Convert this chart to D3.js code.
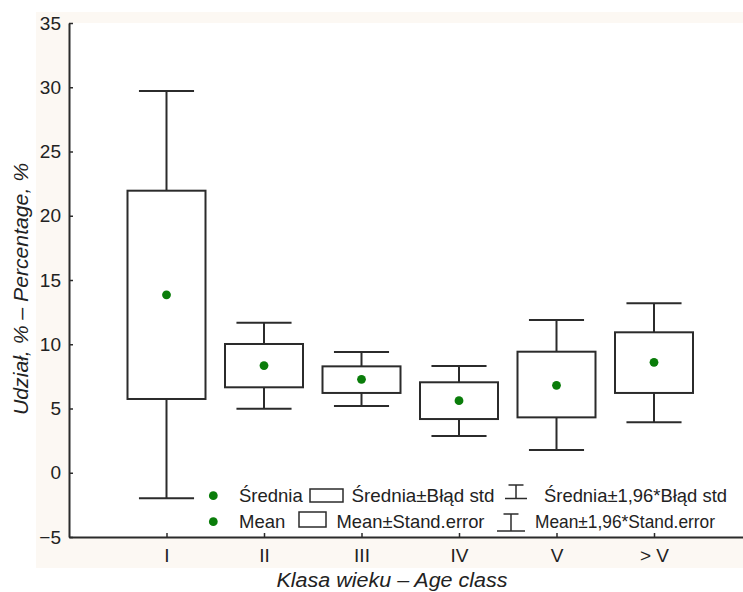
<!DOCTYPE html>
<html>
<head>
<meta charset="utf-8">
<script src="https://cdn.jsdelivr.net/npm/d3@7"></script>
<style>
  html, body { margin: 0; padding: 0; background: #ffffff; }
  svg { display: block; }
  text { font-family: "Liberation Sans", Arial, sans-serif; fill: #222; }
</style>
</head>
<body>
<svg id="chart" width="743" height="592"></svg>
<script>
// ---- data ----
const categories = ["I", "II", "III", "IV", "V", "> V"];
const means      = [13.85, 8.34, 7.27, 5.61, 6.80, 8.59];
const seLow      = [5.74, 6.65, 6.21, 4.18, 4.31, 6.21];
const seHigh     = [21.95, 10.02, 8.28, 7.04, 9.42, 10.93];
const ciLow      = [-1.99, 4.98, 5.19, 2.86, 1.77, 3.93];
const ciHigh     = [29.70, 11.68, 9.40, 8.31, 11.89, 13.19];
const yTicks     = [-5, 0, 5, 10, 15, 20, 25, 30, 35];
const legendRow1 = ["Średnia", "Średnia±Błąd std", "Średnia±1,96*Błąd std"];
const legendRow2 = ["Mean", "Mean±Stand.error", "Mean±1,96*Stand.error"];
const xTitle = "Klasa wieku – Age class";
const yTitle = "Udział, % – Percentage, %";

const data = categories.map((c, i) => ({
  cat: c, mean: means[i], lo: seLow[i], hi: seHigh[i], cLo: ciLow[i], cHi: ciHigh[i]
}));

const svg = d3.select("#chart");
const stroke = "#2b2b2b";
const green = "#0a7d0a";

// outer faint background
svg.append("rect").attr("x", 36).attr("y", 12).attr("width", 707).attr("height", 556)
  .attr("fill", "#fcf8f3");

const x = d3.scalePoint().domain(categories).range([69, 751.5]).padding(1);
const y = d3.scaleLinear().domain([-5, 35]).range([537, 23]);

// plot area
svg.append("rect").attr("x", 69).attr("y", y(35)).attr("width", 743 - 69).attr("height", y(-5) - y(35))
  .attr("fill", "#ffffff");

const step = x.step();
const boxW = step * 0.8;
const capW = step * 0.565;

const g = svg.append("g");

// whiskers
g.selectAll(".wUp").data(data).join("line")
  .attr("x1", d => x(d.cat)).attr("x2", d => x(d.cat))
  .attr("y1", d => y(d.hi)).attr("y2", d => y(d.cHi))
  .attr("stroke", stroke).attr("stroke-width", 2);
g.selectAll(".wDn").data(data).join("line")
  .attr("x1", d => x(d.cat)).attr("x2", d => x(d.cat))
  .attr("y1", d => y(d.lo)).attr("y2", d => y(d.cLo))
  .attr("stroke", stroke).attr("stroke-width", 2);
g.selectAll(".capUp").data(data).join("line")
  .attr("x1", d => x(d.cat) - capW / 2).attr("x2", d => x(d.cat) + capW / 2)
  .attr("y1", d => y(d.cHi)).attr("y2", d => y(d.cHi))
  .attr("stroke", stroke).attr("stroke-width", 2);
g.selectAll(".capDn").data(data).join("line")
  .attr("x1", d => x(d.cat) - capW / 2).attr("x2", d => x(d.cat) + capW / 2)
  .attr("y1", d => y(d.cLo)).attr("y2", d => y(d.cLo))
  .attr("stroke", stroke).attr("stroke-width", 2);
// boxes
g.selectAll(".box").data(data).join("rect")
  .attr("x", d => x(d.cat) - boxW / 2).attr("width", boxW)
  .attr("y", d => y(d.hi)).attr("height", d => y(d.lo) - y(d.hi))
  .attr("fill", "#ffffff").attr("stroke", stroke).attr("stroke-width", 2);
// means
g.selectAll(".mean").data(data).join("circle")
  .attr("cx", d => x(d.cat)).attr("cy", d => y(d.mean)).attr("r", 4.4)
  .attr("fill", green);

// axes
const yAxis = d3.axisLeft(y).tickValues(yTicks).tickSizeInner(-4).tickSizeOuter(0).tickPadding(8);
const yg = svg.append("g").attr("transform", "translate(69,0)").call(yAxis);
yg.select(".domain").attr("stroke", stroke).attr("stroke-width", 2);
yg.selectAll(".tick line").attr("stroke", stroke).attr("stroke-width", 1.5);
yg.selectAll(".tick text").attr("font-size", 19).attr("fill", "#222")
  .attr("font-family", "Liberation Sans, Arial, sans-serif");

const xAxis = d3.axisBottom(x).tickSizeInner(-4).tickSizeOuter(0).tickPadding(12);
const xg = svg.append("g").attr("transform", "translate(0,537)").call(xAxis);
xg.select(".domain").attr("stroke", stroke).attr("stroke-width", 2);
xg.selectAll(".tick line").attr("stroke", stroke).attr("stroke-width", 1.5);
xg.selectAll(".tick text").attr("font-size", 19).attr("fill", "#222")
  .attr("font-family", "Liberation Sans, Arial, sans-serif");

// legend
const lg = svg.append("g");
const fs = 18.5;
// row 1
lg.append("circle").attr("cx", 213.3).attr("cy", 495.7).attr("r", 4.4).attr("fill", green);
lg.append("text").attr("x", 239).attr("y", 502).attr("font-size", fs).text(legendRow1[0]);
lg.append("rect").attr("x", 310).attr("y", 489).attr("width", 33).attr("height", 13)
  .attr("fill", "#fff").attr("stroke", stroke).attr("stroke-width", 1.5);
lg.append("text").attr("x", 351.5).attr("y", 502).attr("font-size", fs)
  .attr("textLength", 143).attr("lengthAdjust", "spacingAndGlyphs").text(legendRow1[1]);
function ibar(cx, top, bot, wTop, wBot) {
  lg.append("line").attr("x1", cx - wTop / 2).attr("x2", cx + wTop / 2).attr("y1", top).attr("y2", top)
    .attr("stroke", stroke).attr("stroke-width", 1.5);
  lg.append("line").attr("x1", cx).attr("x2", cx).attr("y1", top).attr("y2", bot)
    .attr("stroke", stroke).attr("stroke-width", 1.5);
  lg.append("line").attr("x1", cx - wBot / 2).attr("x2", cx + wBot / 2).attr("y1", bot).attr("y2", bot)
    .attr("stroke", stroke).attr("stroke-width", 1.5);
}
ibar(516, 485, 498.5, 15, 22);
lg.append("text").attr("x", 544).attr("y", 502).attr("font-size", fs)
  .attr("textLength", 183).attr("lengthAdjust", "spacingAndGlyphs").text(legendRow1[2]);
// row 2
lg.append("circle").attr("cx", 213.3).attr("cy", 521.7).attr("r", 4.4).attr("fill", green);
lg.append("text").attr("x", 239).attr("y", 528).attr("font-size", fs).text(legendRow2[0]);
lg.append("rect").attr("x", 299).attr("y", 512).attr("width", 27).attr("height", 15)
  .attr("fill", "#fff").attr("stroke", stroke).attr("stroke-width", 1.5);
lg.append("text").attr("x", 336.5).attr("y", 528).attr("font-size", fs)
  .attr("textLength", 148).attr("lengthAdjust", "spacingAndGlyphs").text(legendRow2[1]);
ibar(511, 514, 531, 15, 28);
lg.append("text").attr("x", 535).attr("y", 528).attr("font-size", fs)
  .attr("textLength", 180).attr("lengthAdjust", "spacingAndGlyphs").text(legendRow2[2]);

// axis titles
svg.append("text").attr("x", 392).attr("y", 587).attr("text-anchor", "middle")
  .attr("font-size", 19.5).attr("font-style", "italic")
  .attr("textLength", 231).attr("lengthAdjust", "spacingAndGlyphs").text(xTitle);
svg.append("text").attr("transform", "translate(28,289) rotate(-90)").attr("text-anchor", "middle")
  .attr("font-size", 20).attr("font-style", "italic")
  .attr("textLength", 252).attr("lengthAdjust", "spacingAndGlyphs").text(yTitle);
</script>
</body>
</html>
